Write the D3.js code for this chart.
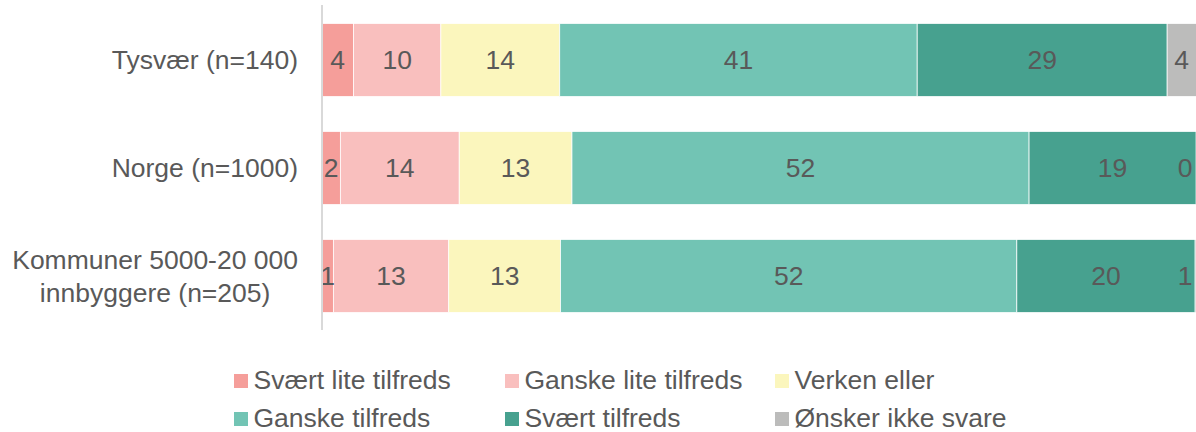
<!doctype html>
<html lang="no">
<head>
  <meta charset="utf-8">
  <title>Tilfredshet</title>
  <script src="https://cdnjs.cloudflare.com/ajax/libs/d3/7.8.5/d3.min.js"></script>
  <style>
    body { margin: 0; background: #fff; }
    text { font-family: "Liberation Sans", Arial, sans-serif; fill: #595959; }
  </style>
</head>
<body>
<div id="chart"></div>

<script>
// categories (top to bottom)
const categories = ["Tysvær (n=140)", "Norge (n=1000)", "Kommuner 5000-20 000\ninnbyggere (n=205)"]

// answer options (stack order)
const series = ["Svært lite tilfreds", "Ganske lite tilfreds", "Verken eller", "Ganske tilfreds", "Svært tilfreds", "Ønsker ikke svare"]
const colors = ["#f59e9a", "#f9bfbe", "#fbf6bd", "#72c4b4", "#47a18f", "#bcbcbb"]

// percent per category, same order as series
const tysvaer  = [3.6, 10.0, 13.6, 40.9, 28.6, 3.6]
const norge    = [2.1, 13.6, 12.9, 52.3, 19.1, 0.0]
const kommuner = [1.3, 13.2, 12.8, 52.2, 20.4, 1.0]
const values = [tysvaer, norge, kommuner]

const W = 1196, H = 432
const fs = "26.5px"
const svg = d3.select("#chart").append("svg")
  .attr("width", W).attr("height", H)

const x = d3.scaleLinear().domain([0, 100]).range([322, 1196])
const y = d3.scaleBand().domain(categories).range([6, 330])
  .paddingInner(0.324).paddingOuter(0.162)
const color = d3.scaleOrdinal().domain(series).range(colors)

svg.append("clipPath").attr("id", "plot")
  .append("rect").attr("x", x(0)).attr("y", 0).attr("width", x(100) - x(0)).attr("height", 340)

// build stacked rows
const rows = categories.map((c, i) => {
  let acc = 0
  return values[i].map((v, j) => {
    const d = { cat: c, key: series[j], v: v, x0: acc, x1: acc + v }
    acc += v
    return d
  })
})

const bars = svg.append("g").attr("clip-path", "url(#plot)")
rows.forEach(r => {
  bars.selectAll(null).data(r).enter().append("rect")
    .attr("x", d => x(d.x0))
    .attr("y", d => y(d.cat))
    .attr("width", d => x(d.x1) - x(d.x0))
    .attr("height", y.bandwidth())
    .attr("fill", d => color(d.key))
    .attr("stroke", "#fff")
    .attr("stroke-width", 0.75)
})

// value labels
const labels = svg.append("g")
rows.forEach(r => {
  labels.selectAll(null).data(r).enter().append("text")
    .attr("x", d => Math.min((x(d.x0) + x(Math.min(d.x1, 100))) / 2, x(100) - 11))
    .attr("y", d => y(d.cat) + y.bandwidth() / 2)
    .attr("dy", "0.35em")
    .attr("text-anchor", "middle")
    .style("font-size", fs)
    .text(d => d3.format(".0f")(d.v))
})

// vertical axis line
svg.append("line")
  .attr("x1", x(0)).attr("x2", x(0))
  .attr("y1", 5).attr("y2", 330)
  .attr("stroke", "#d9d9d9").attr("stroke-width", 2)

// category labels, wrapped ones centred on their widest line
categories.forEach(c => {
  const lines = c.split("\n")
  const t = svg.append("text")
    .style("font-size", fs)
  const spans = lines.map((l, k) => t.append("tspan")
      .attr("y", y(c) + y.bandwidth() / 2 + (k - (lines.length - 1) / 2) * 33)
      .attr("dy", "0.35em")
      .text(l))
  const maxW = d3.max(spans, s => s.node().getComputedTextLength())
  t.attr("text-anchor", "middle")
  spans.forEach(s => s.attr("x", 298 - maxW / 2))
})

// legend
const legX = [234, 505, 775], legY = [381, 419]
const legend = svg.append("g")
series.forEach((s, i) => {
  const lx = legX[i % 3], ly = legY[Math.floor(i / 3)]
  legend.append("rect")
    .attr("x", lx).attr("y", ly - 7)
    .attr("width", 14).attr("height", 14)
    .attr("fill", color(s))
  legend.append("text")
    .attr("x", lx + 19.5).attr("y", ly - 1.5)
    .attr("dy", "0.35em")
    .style("font-size", fs)
    .text(s)
})
</script>
</body>
</html>
